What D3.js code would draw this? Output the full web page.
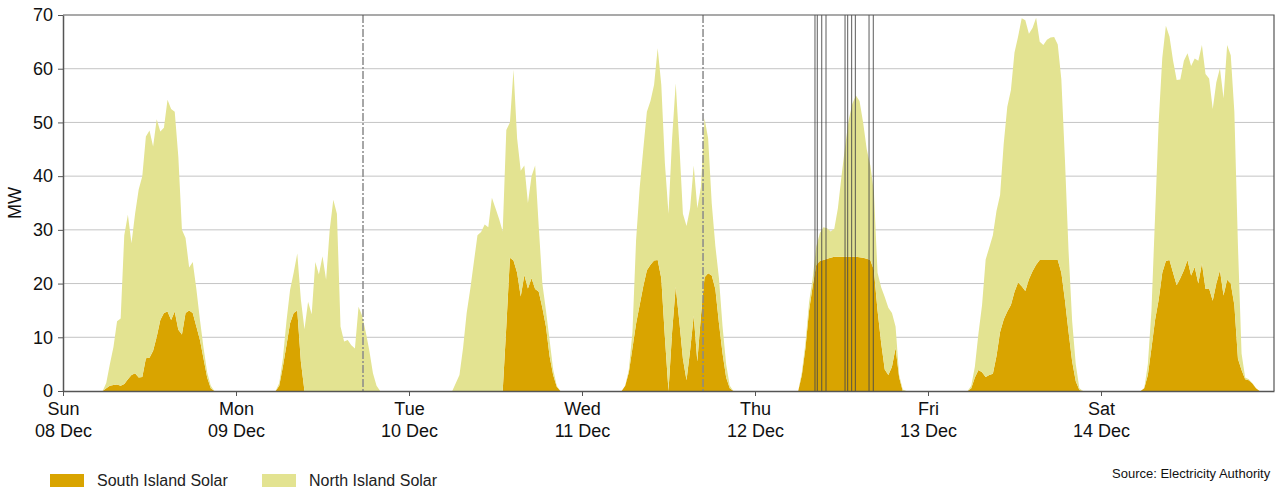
<!DOCTYPE html>
<html>
<head>
<meta charset="utf-8">
<script src="https://cdn.jsdelivr.net/npm/d3@7"></script>
<style>
  body { margin: 0; background: #fff; }
  text { font-family: "Liberation Sans", Arial, sans-serif; }
</style>
</head>
<body>
<svg width="1277" height="489"></svg>
<script>
// half-hourly values, 05:00 to 22:00 for each day (MW)
var startHour = 5;

var southSun = [0,0,0.5,1.0,1.1,1.2,1.0,1.3,2.2,3.0,3.3,2.5,2.6,6.1,6.2,7.5,10.1,13.2,14.5,14.8,13.2,14.8,11.4,10.5,14.5,15,14.5,12,9.5,6,2.5,0.5,0,0,0];
var northSun = [0,0,1.0,4.0,7.1,11.8,12.5,27.7,30.6,24.5,29.7,35,37.4,41.3,42.3,38,40.5,35.1,34.5,39.4,39.3,37.2,32.2,19.5,14,8,9.5,7,3.7,2,1,0.5,0,0,0];

var southMon = [0,0,1,4.5,8.5,12.6,14.5,15,5.5,0,0,0,0,0,0,0,0,0,0,0,0,0,0,0,0,0,0,0,0,0,0,0,0,0,0];
var northMon = [0,0,0.5,1.5,4.5,6.2,7.5,10.6,11.5,11.5,16.6,14.3,24,21.7,25.1,20.7,30,35.6,33,12,9.2,9.5,8.5,7.9,15.7,14,11,7.5,3.3,1,0,0,0,0,0];

var southTue = [0,0,0,0,0,0,0,0,0,0,0,0,0,0,0,0,0,12,24.8,24.3,22,17.6,21.6,19.1,21,19,18.5,15.5,12,6.5,3,0.8,0,0,0];
var northTue = [0,0,0,1.5,3,8,14.5,19,24,29,29.6,31,30.5,36,34,32,29.7,36.6,25.2,35.5,25,23.4,20.4,15.9,19,23,12.1,4.5,3,3,1,0.2,0,0,0];

var southWed = [0,0,1,3.5,8,12.5,16,19.5,22.5,23.5,24.3,24.4,21,10,0,11,19.4,13,6,2,7.6,14,5.5,14,21.2,21.9,21.5,19,12.6,7,2.5,0.5,0,0,0];
var northWed = [0,0,0,0.5,3,15.5,21.8,25.5,29.5,30.5,32.7,39.4,36,32.4,33,36,37.9,33,27,28.7,26.4,28,28.5,24,29.6,25.1,13.4,8,8.4,5,2.5,0.5,0,0,0];

var southThu = [0,0,0,3,8,15,19.5,23.5,24.2,24.4,24.6,24.8,25,25,25,25,25,25,25,24.9,24.8,24.6,24.4,22.5,15,9,4,3,4.5,8,2.5,0,0,0,0];
var northThu = [0,0,0,0.5,1,1.5,1.5,3.4,5.2,6.1,5.7,4.9,5.2,9,15,20.5,25.5,28.5,30,29.1,25.2,20.4,17.6,14.5,7,10.3,13.5,12.5,10,4,0.5,0.3,0,0,0];

var southFri = [0,0,0.5,2.5,3.9,3.5,2.6,3.0,3.2,6.5,11,13.3,14.8,16,18.5,20.2,19.5,18.6,20.8,22.3,23.5,24.4,24.4,24.4,24.4,24.4,24.4,22,16.9,11,5.5,1.8,0.2,0,0];
var northFri = [0,0,0.5,2,6.8,12.5,21.9,23.7,25.8,27,25.5,32.7,38.1,40,44.5,45.8,49.9,50.4,45.7,45.3,46,40.6,40,41,41.4,41.5,40.1,36,26.1,15,7.5,3.2,0.3,0,0];

var southSat = [0,0,0.5,3,8,13.2,17,22,24.2,24.4,22,19.7,21,22.5,24.4,21.5,23.1,20,23.8,19,19.1,16.8,20,22.5,17.8,20.7,20,16,6,3.9,2.2,2,1.4,0.5,0];
var northSat = [0,0,0,2,7,19.3,33,40,43.8,41.6,39.5,38.2,37,39,38.5,39,38.8,41.5,40.6,40,39.1,35.7,37.5,37.6,36.7,43.7,42.5,36,21,3.1,0.3,0.2,0.1,0,0];

var southDays = [southSun, southMon, southTue, southWed, southThu, southFri, southSat];
var northDays = [northSun, northMon, northTue, northWed, northThu, northFri, northSat];

var dayLabels = ["Sun", "Mon", "Tue", "Wed", "Thu", "Fri", "Sat"];
var dateLabels = ["08 Dec", "09 Dec", "10 Dec", "11 Dec", "12 Dec", "13 Dec", "14 Dec"];
var yTicks = [0, 10, 20, 30, 40, 50, 60, 70];

// event markers: [day index, hour]
var dashMarkers = [[1, 17.62], [3, 16.79]];
var thinMarkers = [[4, 8.32], [4, 8.64], [4, 9.26], [4, 9.85], [4, 12.49], [4, 12.86], [4, 13.41], [4, 13.92], [4, 15.82], [4, 16.41]];

var seriesNames = ["South Island Solar", "North Island Solar"];
var seriesColors = ["#d9a400", "#e3e391"];

function chart(){
    var margin = {top: 15, right: 3, bottom: 98, left: 63};

    var svg = d3.select("svg"),
        width = +svg.attr("width"),
        height = +svg.attr("height");

    var start = new Date(2024, 11, 8);
    var end = new Date(2024, 11, 15);
    var at = function(day, hour){ return new Date(start.getTime() + (day * 24 + hour) * 3600000); };

    var x = d3.scaleTime()
        .domain([start, end])
        .range([margin.left, width - margin.right]);

    var y = d3.scaleLinear()
        .domain([0, 70])
        .range([height - margin.bottom, margin.top]);

    var table = [];
    southDays.forEach(function(arr, d){
        arr.forEach(function(v, i){
            table.push({time: at(d, startHour + i / 2), south: v, north: northDays[d][i]});
        });
    });

    var stack = d3.stack().keys(["south", "north"]);
    var layers = stack(table);

    // grid
    svg.append("g")
        .attr("class", "grid")
        .selectAll("line")
        .data(yTicks.slice(1, -1))
        .enter().append("line")
        .attr("x1", margin.left)
        .attr("x2", width - margin.right)
        .attr("y1", function(d){ return y(d); })
        .attr("y2", function(d){ return y(d); })
        .attr("stroke", "#c4c4c4")
        .attr("stroke-width", 1);

    var area = d3.area()
        .x(function(d){ return x(d.data.time); })
        .y0(function(d){ return y(d[0]); })
        .y1(function(d){ return y(d[1]); });

    svg.append("g")
        .selectAll("path")
        .data(layers)
        .enter().append("path")
        .attr("d", area)
        .attr("fill", function(d, i){ return seriesColors[i]; });

    // markers
    svg.append("g")
        .selectAll("line")
        .data(thinMarkers)
        .enter().append("line")
        .attr("x1", function(d){ return x(at(d[0], d[1])); })
        .attr("x2", function(d){ return x(at(d[0], d[1])); })
        .attr("y1", y(70))
        .attr("y2", y(0))
        .attr("stroke", "#4a4a4a")
        .attr("stroke-width", 0.9);

    svg.append("g")
        .selectAll("line")
        .data(dashMarkers)
        .enter().append("line")
        .attr("x1", function(d){ return x(at(d[0], d[1])); })
        .attr("x2", function(d){ return x(at(d[0], d[1])); })
        .attr("y1", y(70))
        .attr("y2", y(0))
        .attr("stroke", "#8a8a8a")
        .attr("stroke-width", 1.5)
        .attr("stroke-dasharray", "8,2,2,2");

    // frame
    svg.append("path")
        .attr("d", "M" + margin.left + "," + y(70) + "H" + (width - margin.right) + "V" + y(0))
        .attr("fill", "none")
        .attr("stroke", "#555")
        .attr("stroke-width", 1.2);

    // y axis
    var yAxis = svg.append("g")
        .attr("transform", "translate(" + margin.left + ",0)")
        .call(d3.axisLeft(y).tickValues(yTicks).tickSize(5).tickPadding(5).tickSizeOuter(0));
    yAxis.select(".domain").attr("stroke", "#555").attr("stroke-width", 1.5);
    yAxis.selectAll(".tick line").attr("stroke", "#555");
    yAxis.selectAll("text")
        .style("font-size", "18px")
        .attr("fill", "#111");

    // x axis
    var days = d3.range(7).map(function(d){ return at(d, 0); });
    var xAxis = svg.append("g")
        .attr("transform", "translate(0," + y(0) + ")")
        .call(d3.axisBottom(x).tickValues(days).tickSize(5).tickSizeOuter(0).tickFormat(""));
    xAxis.select(".domain").attr("stroke", "#555").attr("stroke-width", 1.5);
    xAxis.selectAll(".tick line").attr("stroke", "#555");

    var lab = xAxis.selectAll(".tick")
        .append("text")
        .attr("fill", "#111")
        .attr("text-anchor", "middle")
        .style("font-size", "18px");
    lab.append("tspan")
        .attr("x", 0)
        .attr("y", 24)
        .text(function(d, i){ return dayLabels[i]; });
    lab.append("tspan")
        .attr("x", 0)
        .attr("y", 46)
        .text(function(d, i){ return dateLabels[i]; });

    svg.append("text")
        .attr("transform", "translate(21," + y(35) + ") rotate(-90)")
        .attr("text-anchor", "middle")
        .attr("fill", "#111")
        .style("font-size", "18px")
        .text("MW");

    // legend
    var legend = svg.append("g")
        .selectAll("g")
        .data(seriesNames)
        .enter().append("g")
        .attr("transform", function(d, i){ return "translate(" + (50 + i * 212) + ",474)"; });
    legend.append("rect")
        .attr("width", 34)
        .attr("height", 13)
        .attr("fill", function(d, i){ return seriesColors[i]; });
    legend.append("text")
        .attr("x", 47)
        .attr("y", 12)
        .attr("fill", "#222")
        .style("font-size", "16px")
        .text(function(d){ return d; });

    svg.append("text")
        .attr("x", 1112)
        .attr("y", 478)
        .attr("fill", "#111")
        .style("font-size", "13px")
        .text("Source: Electricity Authority");
}

chart();
</script>
</body>
</html>
